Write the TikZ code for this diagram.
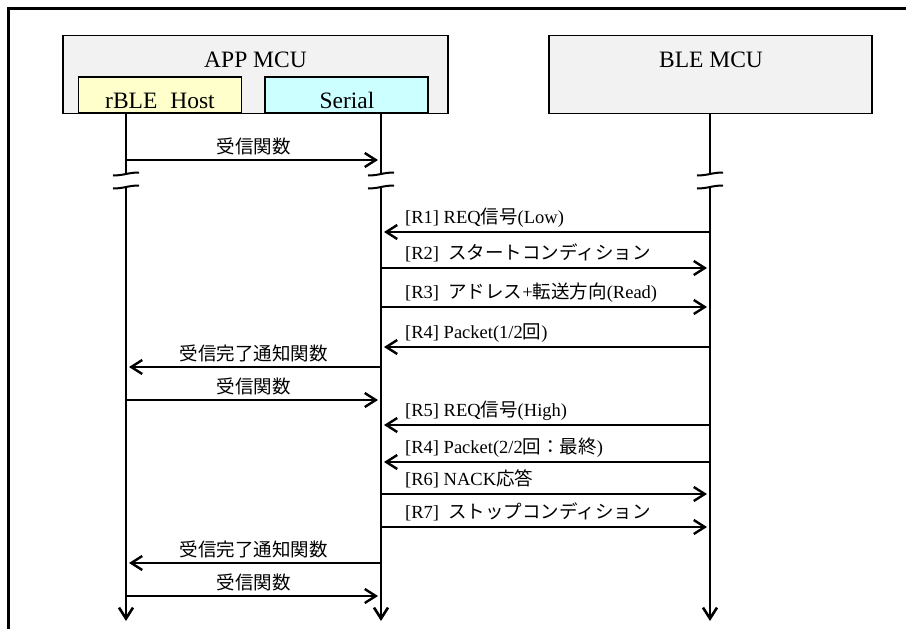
\documentclass[tikz,border=0pt]{standalone}
\usepackage{fontspec}
\setmainfont{Liberation Serif}
\newfontfamily\jpfont{Noto Sans CJK JP}
\newcommand{\jtxt}[1]{{\jpfont #1}}
\usepackage{tikz}
\usetikzlibrary{arrows.meta,positioning}
\definecolor{boxgray}{HTML}{F2F2F2}
\definecolor{hostyellow}{HTML}{FFFFCC}
\definecolor{sercyan}{HTML}{CCFFFF}

\tikzset{
  brk/.pic={\draw[line width=2pt] (-13,2) .. controls (-2,2) and (2,-1) .. (13,-1);}
}

\begin{document}
\begin{tikzpicture}[x=1pt,y=-1pt,
  unit/.style={draw=black,line width=1.4pt,fill=boxgray,minimum width=#1,minimum height=78pt,inner sep=0pt},
  part/.style={draw=black,line width=1.4pt,minimum width=163pt,minimum height=36pt,inner sep=0pt},
  title/.style={inner sep=0pt,font=\fontsize{23.5pt}{26pt}\selectfont},
  life/.style={line width=2.6pt},
  msg/.style={line width=2.4pt,-{Straight Barb[length=11pt,width=14pt]},shorten >=3pt},
  clab/.style={anchor=base,inner sep=0pt,yshift=7pt,font=\fontsize{18.5pt}{22pt}\selectfont},
  rlab/.style={anchor=base west,inner sep=0pt,xshift=23pt,yshift=9pt,font=\fontsize{18.5pt}{22pt}\selectfont}
]
\useasboundingbox (0,0) rectangle (906,629);
\draw[line width=2.6pt] (906,8.3) -- (8.3,8.3) -- (8.3,629);

% blocks
\node[unit=385pt] (app) at (255.5,74.5) {};
\node[unit=323pt] (ble) at (710.5,74.5) {};
\node[part,fill=hostyellow] (host) at (160,95) {};
\node[part,fill=sercyan] (ser) at (346.5,95) {};
\node[title] (appname) at (255.5,60) {APP MCU};
\node[title] (blename) at (711,60) {BLE MCU};
\node[title] (hostname) at (160,100.5) {rBLE\hspace{0.55em}Host};
\node[title] (sername) at (347,100.5) {Serial};

% lifelines with break marks
\foreach \n/\x in {h/126,s/381,b/710}{
  \coordinate (\n top) at (\x,113);
  \coordinate (\n cut) at (\x,173.5);
  \coordinate (\n res) at (\x,186.5);
  \coordinate (\n end) at (\x,621);
  \draw[life] (\n top) -- (\n cut);
  \draw[life,-{Straight Barb[length=11pt,width=14pt]}] (\n res) -- (\n end);
  \pic at (\n cut) {brk};
  \pic at (\n res) {brk};
}

% message rows
\foreach \i/\y in {1/160,2/232,3/268,4/307,5/347,6/367,7/400,8/425,9/462,10/494,11/527,12/563,13/596}{
  \coordinate (h\i) at (126,\y);
  \coordinate (s\i) at (381,\y);
  \coordinate (b\i) at (710,\y);
}

\draw[msg] (h1) -- (s1) node[clab,midway] (t1) {\jtxt{受信関数}};
\draw[msg] (b2) -- (s2) node[rlab,pos=1] (t2) {[R1] REQ\jtxt{信号}(Low)};
\draw[msg] (s3) -- (b3) node[rlab,pos=0] (t3) {[R2]~~\jtxt{スタートコンディション}};
\draw[msg] (s4) -- (b4) node[rlab,pos=0] (t4) {[R3]~~\jtxt{アドレス}+\jtxt{転送方向}(Read)};
\draw[msg] (b5) -- (s5) node[rlab,pos=1] (t5) {[R4] Packet(1/2\jtxt{回})};
\draw[msg] (s6) -- (h6) node[clab,midway] (t6) {\jtxt{受信完了通知関数}};
\draw[msg] (h7) -- (s7) node[clab,midway] (t7) {\jtxt{受信関数}};
\draw[msg] (b8) -- (s8) node[rlab,pos=1] (t8) {[R5] REQ\jtxt{信号}(High)};
\draw[msg] (b9) -- (s9) node[rlab,pos=1] (t9) {[R4] Packet(2/2\jtxt{回：最終})};
\draw[msg] (s10) -- (b10) node[rlab,pos=0] (t10) {[R6] NACK\jtxt{応答}};
\draw[msg] (s11) -- (b11) node[rlab,pos=0] (t11) {[R7]~~\jtxt{ストップコンディション}};
\draw[msg] (s12) -- (h12) node[clab,midway] (t12) {\jtxt{受信完了通知関数}};
\draw[msg] (h13) -- (s13) node[clab,midway] (t13) {\jtxt{受信関数}};
\end{tikzpicture}
\end{document}
